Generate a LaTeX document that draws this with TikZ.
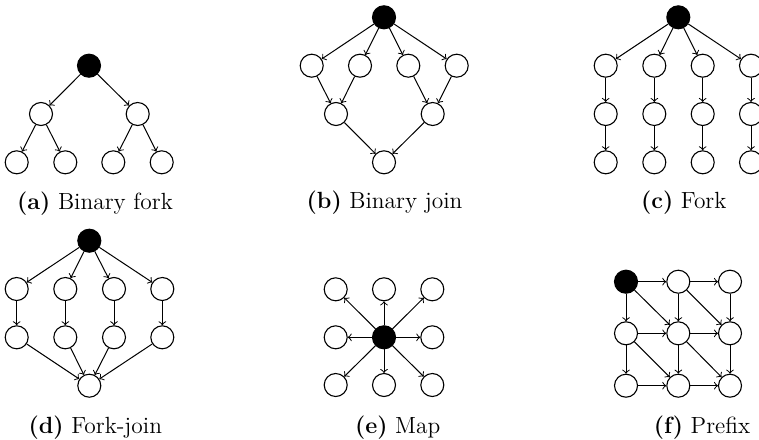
\documentclass[tikz,border=0pt]{standalone}
\begin{document}
\begin{tikzpicture}[x=0.5pt,y=-0.5pt,
  vtx/.style={circle,draw,line width=0.55pt,minimum size=11.5pt,inner sep=0pt},
  blk/.style={vtx,fill=black},
  edge/.style={->,line width=0.5pt},
  captxt/.style={anchor=base,inner sep=0pt,font=\fontsize{11.7}{14}\selectfont}]
\useasboundingbox (0,0) rectangle (759,439);
% (a) Binary fork
\node[blk] (a0) at (89,65.7) {};
\node[vtx] (a1) at (41,114) {};
\node[vtx] (a2) at (137.7,114) {};
\node[vtx] (a3) at (16.7,162.3) {};
\node[vtx] (a4) at (65.3,162.3) {};
\node[vtx] (a5) at (113.3,162.3) {};
\node[vtx] (a6) at (161.7,162.3) {};
\draw[edge] (a0) -- (a1);
\draw[edge] (a0) -- (a2);
\draw[edge] (a1) -- (a3);
\draw[edge] (a1) -- (a4);
\draw[edge] (a2) -- (a5);
\draw[edge] (a2) -- (a6);
\node[captxt] (capa) at (95,209) {\textbf{(a)} Binary fork};
% (b) Binary join
\node[blk] (b0) at (384,17.3) {};
\node[vtx] (b1) at (311.7,65.7) {};
\node[vtx] (b2) at (360,65.7) {};
\node[vtx] (b3) at (408.3,65.7) {};
\node[vtx] (b4) at (456.7,65.7) {};
\node[vtx] (b5) at (336,114) {};
\node[vtx] (b6) at (432.7,114) {};
\node[vtx] (b7) at (384,162.3) {};
\foreach \t in {b1,b2,b3,b4} \draw[edge] (b0) -- (\t);
\draw[edge] (b1) -- (b5);
\draw[edge] (b2) -- (b5);
\draw[edge] (b3) -- (b6);
\draw[edge] (b4) -- (b6);
\draw[edge] (b5) -- (b7);
\draw[edge] (b6) -- (b7);
\node[captxt] (capb) at (384.5,208.5) {\textbf{(b)} Binary join};
% (c) Fork
\node[blk] (c0) at (678.3,17.3) {};
\foreach \i/\x in {1/605.7,2/654.3,3/702.7,4/751} {
  \node[vtx] (c\i1) at (\x,65.7) {};
  \node[vtx] (c\i2) at (\x,114) {};
  \node[vtx] (c\i3) at (\x,162.3) {};
  \draw[edge] (c0) -- (c\i1);
  \draw[edge] (c\i1) -- (c\i2);
  \draw[edge] (c\i2) -- (c\i3);
}
\node[captxt] (capc) at (683.8,208.5) {\textbf{(c)} Fork};
% (d) Fork-join
\node[blk] (d0) at (89.3,240.7) {};
\node[vtx] (d9) at (89.3,385.7) {};
\foreach \i/\x in {1/16.7,2/65.3,3/114,4/162.3} {
  \node[vtx] (d\i1) at (\x,289) {};
  \node[vtx] (d\i2) at (\x,337.3) {};
  \draw[edge] (d0) -- (d\i1);
  \draw[edge] (d\i1) -- (d\i2);
  \draw[edge] (d\i2) -- (d9);
}
\node[captxt] (capd) at (95.3,433.3) {\textbf{(d)} Fork-join};
% (e) Map
\node[blk] (e0) at (384,337.3) {};
\node[vtx] (e1) at (335.7,289.3) {};
\node[vtx] (e2) at (384,289.3) {};
\node[vtx] (e3) at (432.3,289.3) {};
\node[vtx] (e4) at (335.7,337.3) {};
\node[vtx] (e5) at (432.3,337.3) {};
\node[vtx] (e6) at (335.7,385) {};
\node[vtx] (e7) at (384,385) {};
\node[vtx] (e8) at (432.3,385) {};
\foreach \t in {e1,e2,e3,e4,e5,e6,e7,e8} \draw[edge] (e0) -- (\t);
\node[captxt] (cape) at (397.7,433.3) {\textbf{(e)} Map};
% (f) Prefix
\node[blk] (f00) at (626,281.7) {};
\node[vtx] (f10) at (678.3,281.7) {};
\node[vtx] (f20) at (730,281.7) {};
\node[vtx] (f01) at (626,333.3) {};
\node[vtx] (f11) at (678.3,333.3) {};
\node[vtx] (f21) at (730,333.3) {};
\node[vtx] (f02) at (626,385.7) {};
\node[vtx] (f12) at (678.3,385.7) {};
\node[vtx] (f22) at (730,385.7) {};
\draw[edge] (f00) -- (f10);
\draw[edge] (f10) -- (f20);
\draw[edge] (f01) -- (f11);
\draw[edge] (f11) -- (f21);
\draw[edge] (f02) -- (f12);
\draw[edge] (f12) -- (f22);
\draw[edge] (f00) -- (f01);
\draw[edge] (f01) -- (f02);
\draw[edge] (f10) -- (f11);
\draw[edge] (f11) -- (f12);
\draw[edge] (f20) -- (f21);
\draw[edge] (f21) -- (f22);
\draw[edge] (f00) -- (f11);
\draw[edge] (f10) -- (f21);
\draw[edge] (f01) -- (f12);
\draw[edge] (f11) -- (f22);
\node[captxt] (capf) at (702,433.3) {\textbf{(f)} Prefix};
\end{tikzpicture}
\end{document}
